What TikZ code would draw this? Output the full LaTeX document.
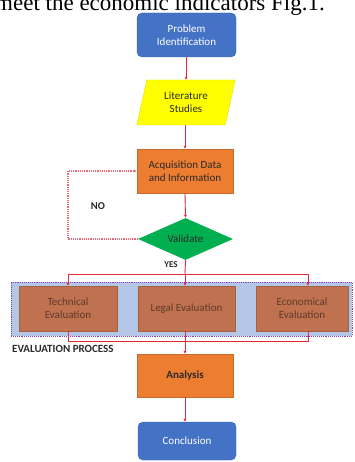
\documentclass[tikz,border=0pt]{standalone}
\usepackage{fontspec}
\setmainfont{Carlito}
\newfontfamily\serifhead{Liberation Serif}
\usetikzlibrary{shapes.geometric,arrows.meta}
\definecolor{pblue}{HTML}{4472C4}
\definecolor{pblueb}{HTML}{3A64B0}
\definecolor{pyellow}{HTML}{FFFF00}
\definecolor{porange}{HTML}{ED7D31}
\definecolor{pgreen}{HTML}{00B050}
\definecolor{pbrown}{HTML}{C0714F}
\definecolor{pbg}{HTML}{B4C7E7}
\definecolor{ppurple}{HTML}{8A3FB8}
\definecolor{pred}{HTML}{E2283A}
\definecolor{ppink}{HTML}{EE6A78}
\definecolor{darktxt}{HTML}{2A2A2A}
\definecolor{browntxt}{HTML}{5E3B2E}
\tikzset{
  boxtext/.style={align=center,font=\fontsize{11}{13}\selectfont,inner sep=0pt},
  bluebox/.style={boxtext,rectangle,rounded corners=5pt,fill=pblue,draw=pblueb,line width=0.4pt,text=white},
  orangebox/.style={boxtext,rectangle,fill=porange,draw=porange!85!black,line width=0.3pt,text=darktxt},
  brownbox/.style={boxtext,rectangle,fill=pbrown,draw=pbrown!85!black,line width=0.3pt,text=browntxt},
  conn/.style={draw=pred,line width=0.9pt},
  connarrow/.style={conn,-{Latex[length=3pt,width=3pt]}},
  noloop/.style={draw=ppink,line width=1.2pt,densely dotted,-{Latex[length=3pt,width=3pt]}},
  lbl/.style={font=\bfseries\fontsize{9}{10}\selectfont,text=darktxt,inner sep=0pt}
}
\begin{document}
\begin{tikzpicture}[x=1pt,y=-1pt]
\useasboundingbox (0,0) rectangle (354,462);
\clip (0,0) rectangle (354,462);
% cut-off page text
\node[anchor=base west,inner sep=0pt,font=\serifhead\fontsize{23}{26}\selectfont] (pagetext) at (-5,10.5) {meet the economic indicators Fig.1.};
% background of evaluation process
\node[rectangle,fill=pbg,draw=ppurple,line width=0.9pt,densely dotted,minimum width=341pt,minimum height=54pt,inner sep=0pt] (evalbg) at (181.5,309) {};
% nodes
\node[bluebox,minimum width=99pt,minimum height=44pt] (prob) at (186.5,35) {Problem\\Identification};
\node[boxtext,trapezium,trapezium left angle=75,trapezium right angle=105,trapezium stretches=true,fill=pyellow,draw=pyellow!85!black,line width=0.3pt,minimum width=99pt,minimum height=45pt,text=darktxt] (lit) at (186,102.5) {Literature\\Studies};
\node[orangebox,minimum width=96pt,minimum height=44pt] (acq) at (185,171) {Acquisition Data\\and Information};
\node[boxtext,diamond,aspect=2.3,fill=pgreen,minimum width=95pt,minimum height=42pt,text=darktxt] (val) at (185.5,239) {Validate};
\node[brownbox,minimum width=98pt,minimum height=45pt] (tech) at (68,308.5) {Technical\\Evaluation};
\node[brownbox,minimum width=97pt,minimum height=45pt] (legal) at (186.5,308.5) {Legal Evaluation};
\node[brownbox,minimum width=92pt,minimum height=45pt] (econ) at (302,308.5) {Economical\\Evaluation};
\node[orangebox,minimum width=96pt,minimum height=43pt,font=\bfseries\fontsize{11}{13}\selectfont] (ana) at (185,375.5) {Analysis};
\node[bluebox,minimum width=98pt,minimum height=38pt] (conc) at (187,441) {Conclusion};
% labels
\node[lbl,font=\bfseries\fontsize{10.5}{12}\selectfont] (nolbl) at (98,206) {NO};
\node[lbl] (yeslbl) at (171,265) {YES};
\node[lbl,anchor=west,font=\bfseries\fontsize{11}{12}\selectfont] (evallbl) at (12,349) {EVALUATION PROCESS};
% coordinates
\coordinate (ysplit) at (185,274);
\coordinate (ytl) at (68,274);
\coordinate (ytr) at (308,274);
\coordinate (bjoin) at (185,341);
\coordinate (bl) at (68,341);
\coordinate (br) at (308,341);
\coordinate (noleft) at (68,239);
% connectors
\draw[connarrow] (prob.south -| lit.north) -- (lit.north);
\draw[connarrow] (lit.south -| acq.north) -- (acq.north);
\draw[connarrow] (acq.south) -- (val.north);
\draw[noloop] (val.west) -- (noleft) |- (acq.west);
\draw[conn] (val.south) -- (ysplit);
\draw[conn] (ytl) -- (ytr);
\draw[connarrow] (ytl) -- (ytl |- tech.north);
\draw[connarrow] (ysplit) -- (ysplit |- legal.north);
\draw[connarrow] (ytr) -- (ytr |- econ.north);
\draw[conn] (bl |- tech.south) -- (bl) -- (br) -- (br |- econ.south);
\draw[connarrow] (bjoin |- legal.south) -- (bjoin |- ana.north);
\draw[connarrow] (ana.south) -- (ana.south |- conc.north);
\end{tikzpicture}
\end{document}
